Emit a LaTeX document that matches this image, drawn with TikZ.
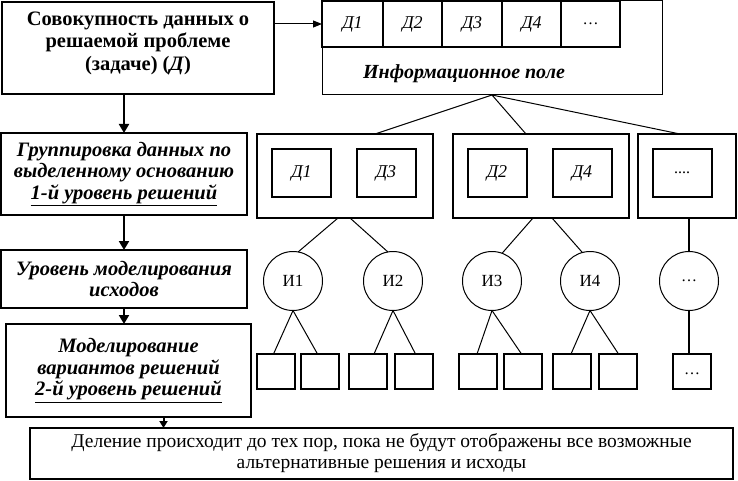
\documentclass[tikz,border=0pt]{standalone}
\usepackage{fontspec}
\setmainfont{Liberation Serif}
\usetikzlibrary{arrows.meta,shapes.geometric}
\begin{document}
\begin{tikzpicture}[x=1pt,y=-1pt,
  lbox/.style={draw,line width=2pt,inner sep=2pt,outer sep=0pt,align=center,
    font=\fontsize{20.5}{21.5}\selectfont\bfseries\itshape},
  infobox/.style={draw,line width=1pt,inner sep=0pt,outer sep=0pt},
  cell/.style={draw,line width=1.5pt,inner sep=0pt,outer sep=0pt,minimum height=46pt,
    font=\fontsize{18}{20}\selectfont\itshape},
  grp/.style={draw,line width=1.3pt,inner sep=0pt,outer sep=0pt,minimum width=176pt,minimum height=84pt},
  dbox/.style={draw,line width=2pt,inner sep=0pt,outer sep=0pt,minimum width=59pt,minimum height=48pt,
    font=\fontsize{18}{20}\selectfont\itshape},
  ibox/.style={draw,circle,line width=1pt,inner sep=0pt,outer sep=0pt,minimum size=59pt,
    font=\fontsize{17}{20}\selectfont},
  leaf/.style={draw,line width=2pt,inner sep=0pt,outer sep=0pt,minimum width=38pt,minimum height=35pt,
    font=\fontsize{16}{18}\selectfont},
  link/.style={line width=1pt},
  flow/.style={line width=2pt,-{Triangle[length=9pt,width=10pt]}},
  ptr/.style={line width=1pt,-{Triangle[length=9pt,width=7pt]}}
]
\useasboundingbox (0,0) rectangle (738,481);

% left column
\node[lbox,minimum width=272pt,minimum height=92pt] (b1) at (138,48) {};
\node[align=center,inner sep=0pt,font=\fontsize{20.5}{22.5}\selectfont\bfseries] (b1t) at (138,43)
  {Совокупность данных о\\решаемой проблеме\\(задаче) (\textit{Д})};
\node[lbox,minimum width=246pt,minimum height=82pt] (b2) at (124,174)
  {Группировка данных по\\выделенному основанию\\\underline{1-й уровень решений}};
\node[lbox,minimum width=246pt,minimum height=58pt] (b3) at (124,279)
  {Уровень моделирования\\исходов};
\node[lbox,minimum width=245pt,minimum height=93pt] (b4) at (128.5,370.5)
  {Моделирование\\вариантов решений\\\underline{2-й уровень решений}};
\node[draw,line width=1.5pt,inner sep=0pt,outer sep=0pt,minimum width=703pt,minimum height=51pt,align=center,
  font=\fontsize{19.5}{21}\selectfont] (b5) at (381.5,453.5)
  {Деление происходит до тех пор, пока не будут отображены все возможные\\альтернативные решения и исходы};

\draw[flow] (b2.north |- b1.south) -- (b2.north);
\draw[flow] (b2.south) -- (b3.north);
\draw[flow] (b3.south) -- (b3.south |- b4.north);
\draw[line width=2pt,-{Triangle[length=7pt,width=8pt]}] ([xshift=35pt]b4.south) -- ([xshift=35pt]b4.south |- b5.north);

% information field
\node[infobox,minimum width=340pt,minimum height=94pt] (info) at (492,48) {};
\node[cell,minimum width=61pt] (c1) at (352.5,24) {Д1};
\node[cell,minimum width=59pt] (c2) at (412.5,24) {Д2};
\node[cell,minimum width=60pt] (c3) at (472,24) {Д3};
\node[cell,minimum width=59pt] (c4) at (531.5,24) {Д4};
\node[cell,minimum width=59pt,font=\fontsize{16}{18}\selectfont] (c5) at (590.5,24) {\dots};
\node[font=\fontsize{20}{22}\selectfont\bfseries\itshape] (infot) at (464,74) {Информационное поле};

\draw[ptr] (b1.east |- c1.west) -- (c1.west);

% groups
\node[grp] (g1) at (345,176) {};
\node[dbox] (g1a) at (301.5,173) {Д1};
\node[dbox] (g1b) at (386,173) {Д3};
\node[grp] (g2) at (541,176) {};
\node[dbox] (g2a) at (497,173) {Д2};
\node[dbox] (g2b) at (582,173) {Д4};
\node[grp,minimum width=98pt] (g3) at (687,176) {};
\node[dbox,font=\fontsize{16}{18}\selectfont] (g3a) at (682,173) {....};

\draw[link] (info.south) -- ([xshift=30pt]g1.north);
\draw[link] (info.south) -- ([xshift=-15pt]g2.north);
\draw[link] (info.south) -- ([xshift=-7pt]g3.north);

% outcomes
\node[ibox] (i1) at (293,281) {И1};
\node[ibox] (i2) at (393,281) {И2};
\node[ibox] (i3) at (492,281) {И3};
\node[ibox] (i4) at (590,281) {И4};
\node[ibox,font=\fontsize{16}{18}\selectfont] (i5) at (689,281) {\dots};

\draw[link] ([xshift=-7pt]g1.south) -- (i1.80);
\draw[link] ([xshift=5pt]g1.south) -- (i2.100);
\draw[link] ([xshift=-8pt]g2.south) -- (i3.70);
\draw[link] ([xshift=11pt]g2.south) -- (i4.105);
\draw[line width=1.5pt] (i5.north |- g3.south) -- (i5.north);

% leaves
\node[leaf] (l1) at (275.5,371.5) {};
\node[leaf] (l2) at (319.5,371.5) {};
\node[leaf] (l3) at (368,371.5) {};
\node[leaf] (l4) at (413.5,371.5) {};
\node[leaf] (l5) at (478,371.5) {};
\node[leaf] (l6) at (522.5,371.5) {};
\node[leaf] (l7) at (572,371.5) {};
\node[leaf] (l8) at (617.5,371.5) {};
\node[leaf] (l9) at (692,371.5) {\raisebox{-6pt}{\dots}};

\draw[link] (i1.south) -- ([xshift=-2pt]l1.north);
\draw[link] (i1.south) -- ([xshift=-2pt]l2.north);
\draw[link] (i2.south) -- ([xshift=6pt]l3.north);
\draw[link] (i2.south) -- ([xshift=2pt]l4.north);
\draw[link] (i3.south) -- ([xshift=-1pt]l5.north);
\draw[link] (i3.south) -- ([xshift=-1pt]l6.north);
\draw[link] (i4.south) -- ([xshift=-1pt]l7.north);
\draw[link] (i4.south) -- ([xshift=1pt]l8.north);
\draw[line width=1.5pt] (i5.south) -- (i5.south |- l9.north);
\end{tikzpicture}
\end{document}
